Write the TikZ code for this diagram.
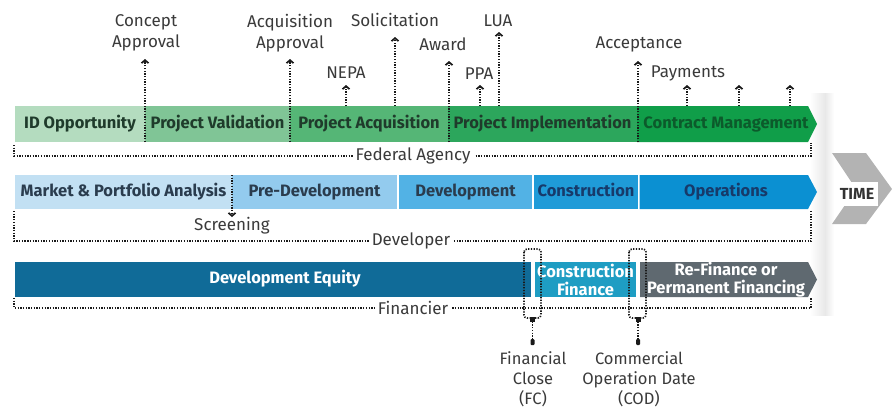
\documentclass[tikz,border=0pt]{standalone}
\usepackage{fontspec}
\setmainfont{Fira Sans}
\usetikzlibrary{arrows.meta}

% phase colours
\definecolor{grA}{HTML}{B4DCBF}
\definecolor{grB}{HTML}{80C596}
\definecolor{grC}{HTML}{55B676}
\definecolor{grD}{HTML}{2CA65C}
\definecolor{grE}{HTML}{109E49}
\definecolor{blA}{HTML}{C2E0F3}
\definecolor{blB}{HTML}{93CBEE}
\definecolor{blC}{HTML}{52B2E5}
\definecolor{blD}{HTML}{1F9BD8}
\definecolor{blE}{HTML}{0B90D2}
\definecolor{fnA}{HTML}{106B98}
\definecolor{fnB}{HTML}{1E9DC3}
\definecolor{fnC}{HTML}{5F6970}
\definecolor{txtgreen}{HTML}{1F3B2B}
\definecolor{txtdkgreen}{HTML}{0C5A2B}
\definecolor{txtblue}{HTML}{2A3C4E}
\definecolor{txtnavy}{HTML}{173A6A}
\definecolor{ink}{HTML}{3A3A3A}
\definecolor{dots}{HTML}{1A1A1A}
\definecolor{timegrey}{HTML}{B3B3B3}

\tikzset{
  seglabel/.style={inner sep=0pt, font=\fontsize{16.5}{18}\selectfont\bfseries},
  oneline/.style={text height=12pt, text depth=3.5pt},
  segbox/.style={seglabel, minimum height=#1},
  milestone/.style={inner sep=0pt, text=ink, align=center,
    font=\fontsize{17}{20.5}\selectfont},
  dotline/.style={draw=dots, line width=1.7pt, dash pattern=on 1.3pt off 1.4pt},
  tickup/.style={dotline, -{Straight Barb[length=3pt,width=7pt]}},
  bracketlabel/.style={milestone, fill=white, inner xsep=3pt, inner ysep=1pt},
}

\begin{document}
\begin{tikzpicture}[x=1pt,y=-1pt]
\useasboundingbox (0,0) rectangle (892,410);

% soft edge of the timeline panel
\shade[left color=white, right color=gray!18] (810,93) rectangle (825,315);
\shade[left color=gray!18, right color=white] (825,93) rectangle (834,315);

% ---------------- Federal Agency row ----------------
\node[segbox=36pt, oneline, fill=grA, minimum width=130pt, text=txtgreen] (idopp) at (80,124) {ID Opportunity};
\node[segbox=36pt, oneline, fill=grB, minimum width=145pt, text=txtgreen] (pval) at (217.5,124) {Project Validation};
\node[segbox=36pt, oneline, fill=grC, minimum width=158pt, text=txtgreen] (pacq) at (369,124) {Project Acquisition};
\node[segbox=36pt, oneline, fill=grD, minimum width=189pt, text=txtgreen] (pimp) at (542.5,124) {Project Implementation};
\fill[grE] (637,106) -- (808,106) -- (817,124) -- (808,142) -- (637,142) -- cycle;
\node[seglabel, oneline, text=txtdkgreen] (cman) at (726,124) {Contract Management};

% ---------------- Developer row ----------------
\node[segbox=34pt, oneline, fill=blA, minimum width=217pt, text=txtblue] (mpa) at (123.5,192) {Market \& Portfolio Analysis};
\node[segbox=34pt, oneline, fill=blB, minimum width=165pt, text=txtblue] (predev) at (314.5,192) {Pre-Development};
\node[segbox=34pt, oneline, fill=blC, minimum width=133pt, text=txtblue] (dev) at (465.5,192) {Development};
\node[segbox=34pt, oneline, fill=blD, minimum width=104pt, text=txtnavy] (constr) at (586,192) {Construction};
\fill[blE] (639.5,175) -- (808,175) -- (817,192) -- (808,209) -- (639.5,209) -- cycle;
\node[seglabel, oneline, text=txtnavy] (ops) at (726,192) {Operations};

% ---------------- Financier row ----------------
\fill[fnA] (15,262) rectangle (531,297);
\node[seglabel, oneline, text=white] (deveq) at (285,279.5) {Development Equity};
\node[segbox=35pt, fill=fnB, minimum width=101pt, text=white, align=center,
      font=\fontsize{16.5}{18}\selectfont\bfseries] (cfin) at (585.5,279.5) {Construction\\Finance};
\fill[fnC] (640,262) -- (808,262) -- (817,279.5) -- (808,297) -- (640,297) -- cycle;
\node[seglabel, text=white, align=center] (refin) at (726,279.5) {Re-Finance or\\Permanent Financing};

% ---------------- milestone labels (top) ----------------
\node[milestone] (concept) at (146,33) {Concept\\Approval};
\node[milestone] (acqapp) at (290,33) {Acquisition\\Approval};
\node[milestone] (nepa) at (346,73) {NEPA};
\node[milestone] (solic) at (395,20) {Solicitation};
\node[milestone] (award) at (443,44) {Award};
\node[milestone] (ppa) at (479,74) {PPA};
\node[milestone] (lua) at (498,21) {LUA};
\node[milestone] (accept) at (639,44) {Acceptance};
\node[milestone] (paym) at (688,73) {Payments};

% anchor points of the milestone ticks
\coordinate (cA) at (145,142);  \coordinate (cAt) at (145,59);
\coordinate (aA) at (290,142);  \coordinate (aAt) at (290,59);
\coordinate (nA) at (346,106);  \coordinate (nAt) at (346,85);
\coordinate (sA) at (395,106);  \coordinate (sAt) at (395,37);
\coordinate (wA) at (449,142);  \coordinate (wAt) at (449,61);
\coordinate (pA) at (480,106);  \coordinate (pAt) at (480,85);
\coordinate (lA) at (499,106);  \coordinate (lAt) at (499,32);
\coordinate (eA) at (638,142);  \coordinate (eAt) at (638,61);
\coordinate (y1) at (687,106);  \coordinate (y1t) at (687,85);
\coordinate (y2) at (739,106);  \coordinate (y2t) at (739,85);
\coordinate (y3) at (790,106);  \coordinate (y3t) at (790,85);

\draw[tickup] (cA) -- (cAt);
\draw[tickup] (aA) -- (aAt);
\draw[tickup] (nA) -- (nAt);
\draw[tickup] (sA) -- (sAt);
\draw[tickup] (wA) -- (wAt);
\draw[tickup] (pA) -- (pAt);
\draw[tickup] (lA) -- (lAt);
\draw[tickup] (eA) -- (eAt);
\draw[tickup] (y1) -- (y1t);
\draw[tickup] (y2) -- (y2t);
\draw[tickup] (y3) -- (y3t);

% screening marker
\node[milestone] (screen) at (232,226) {Screening};
\coordinate (scA) at (232,175);
\coordinate (scB) at (232,217);
\draw[tickup] (scA) -- (scB);

% ---------------- role brackets ----------------
\draw[dotline] (14,145) -- (14,156) -- (811,156) -- (811,143);
\node[bracketlabel] (fed) at (413,156) {Federal Agency};
\draw[dotline] (14,211) -- (14,241) -- (811,241) -- (811,211);
\node[bracketlabel] (devr) at (411,241) {Developer};
\draw[dotline] (14,298) -- (14,308) -- (811,308) -- (811,297);
\node[bracketlabel] (finr) at (413,308) {Financier};

% ---------------- financial close / COD markers ----------------
\draw[dotline, rounded corners=3pt] (524,249) rectangle (541,318);
\node[fill=dots, minimum size=5pt, inner sep=0pt] (fcsq) at (532.5,319) {};
\node[fill=dots, minimum width=4pt, minimum height=6pt, inner sep=0pt, rounded corners=1pt] (fcdot) at (532.5,342) {};
\draw[dotline] (fcsq) -- (fcdot);
\node[milestone, font=\fontsize{16.5}{20}\selectfont] (fclab) at (533,379) {Financial\\Close\\(FC)};

\draw[dotline, rounded corners=3pt] (629,249) rectangle (646,318);
\node[fill=dots, minimum size=5pt, inner sep=0pt] (codsq) at (638,319) {};
\node[fill=dots, minimum width=4pt, minimum height=6pt, inner sep=0pt, rounded corners=1pt] (coddot) at (638,342) {};
\draw[dotline] (codsq) -- (coddot);
\node[milestone, font=\fontsize{16.5}{20}\selectfont] (codlab) at (639,379) {Commercial\\Operation Date\\(COD)};

% ---------------- time arrow ----------------
\fill[timegrey] (832,153) -- (866,153) -- (892,189) -- (866,224) -- (832,224) -- (856,189) -- cycle;
\node[fill=white, minimum width=42pt, minimum height=24pt, inner sep=0pt,
      font=\fontsize{16}{18}\selectfont\bfseries, text=black!80] (time) at (857,194) {TIME};
\end{tikzpicture}
\end{document}
